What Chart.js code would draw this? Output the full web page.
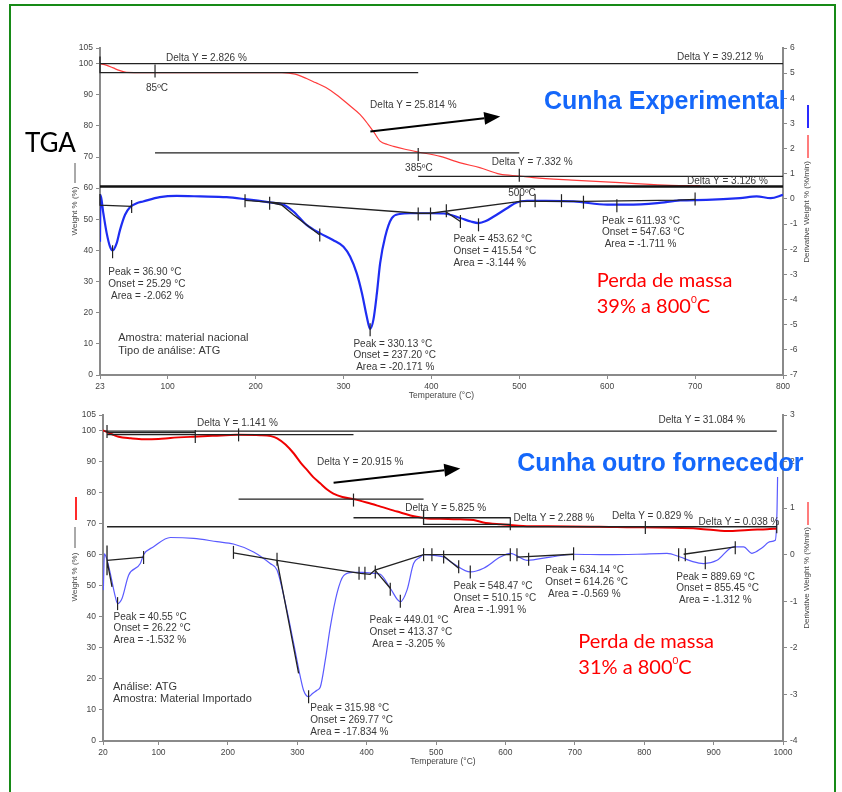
<!DOCTYPE html>
<html>
<head>
<meta charset="utf-8">
<script src="https://cdn.jsdelivr.net/npm/chart.js@4.4.0/dist/chart.umd.min.js"></script>
<style>
  html, body { margin: 0; padding: 0; background: #fff; }
  #page { position: relative; width: 842px; height: 792px; overflow: hidden; background: #fff; }
  #frame { position: absolute; left: 9px; top: 4px; width: 823px; height: 800px; border: 2px solid #178a17; }
  canvas { position: absolute; left: 0; }
  #topChart { top: 0; }
  #bottomChart { top: 400px; }
</style>
</head>
<body>
<div id="page">
  <div id="frame"></div>
  <canvas id="topChart" width="842" height="400"></canvas>
  <canvas id="bottomChart" width="842" height="392"></canvas>
</div>
<script>
const FONT = '"Liberation Sans", Arial, sans-serif';
Chart.defaults.font.family = FONT;

// ---------- top: material nacional (23 - 800 C) ----------
const topTempTicks = [23, 100, 200, 300, 400, 500, 600, 700, 800];
const topWeightTicks = [0, 10, 20, 30, 40, 50, 60, 70, 80, 90, 100, 105];

const topTgaTemp = [23, 30, 38, 45, 53, 100, 150, 200, 230, 245, 258, 268, 280, 292, 305, 319, 328, 334, 342, 350, 357, 370, 385, 410, 433, 455, 478, 500, 516, 560, 620, 672, 706];
const topTgaWeight = [100, 99.5, 98.6, 97.8, 97.2, 97.1, 97.1, 97.1, 97.1, 96.6, 95.2, 93.9, 92.3, 90, 87, 83.6, 80.5, 78.2, 75, 74, 73.4, 72.5, 71.6, 70.2, 68.1, 66.6, 64.5, 63.9, 63.4, 62.6, 61.7, 60.9, 60.8];

const topDtgTemp = [23, 23.6, 26.8, 30.6, 34.4, 37.3, 42, 45.8, 51.5, 57.1, 64.8, 72, 91, 110, 137, 167, 188, 216, 232, 243, 258, 273, 288, 300, 307.5, 315, 321, 326.5, 330.3, 334, 338, 341.7, 347.4, 355, 364, 376, 400, 414, 433, 445, 453.6, 462, 471, 486, 497, 509, 530, 562, 600, 622, 657, 683, 713, 751, 770, 786, 800];
const topDtgRate = [-1.7, 0.16, -0.57, -1.36, -1.9, -2.05, -1.76, -1.23, -0.63, -0.33, -0.17, -0.1, 0.07, 0.12, 0.1, 0.07, -0.01, -0.14, -0.23, -0.5, -1.03, -1.36, -1.63, -1.9, -2.29, -2.95, -3.75, -4.68, -5.17, -4.81, -3.75, -2.55, -1.5, -0.76, -0.6, -0.57, -0.57, -0.58, -0.76, -0.9, -0.96, -0.88, -0.7, -0.37, -0.14, -0.08, -0.08, -0.1, -0.23, -0.23, -0.17, -0.06, -0.04, 0.03, 0.1, 0.03, 0.16];

// construction lines [temp, weight %]
const topWeightGuides = [
  [[23, 100], [800, 100]],
  [[23, 102.3], [23, 97.1], [385, 97.1]],
  [[85.6, 71.3], [500, 71.3]],
  [[385, 63.8], [800, 63.8]]
];
const topWeightBold = [[[23, 60.55], [800, 60.55]]];
const topWeightMarks = [[85.6, 97.6], [385, 70.8], [500, 64.1]];

// construction lines [temp, derivative %/min]
const topRateGuides = [
  [[23, 0.2], [23, -0.25], [59, -0.3]],
  [[188, -0.06], [385, -0.57], [399, -0.57], [501, -0.1], [573, -0.1], [680, -0.05], [700, -0.02]],
  [[216, -0.14], [230, -0.25], [243, -0.63], [273, -1.43]],
  [[416, -0.5], [433, -0.9]]
];
const topRateMarks = [[37.3, -2.1], [59, -0.3], [188, -0.07], [216, -0.17], [273, -1.43], [330.3, -5.2], [385, -0.6], [399, -0.6], [417, -0.47], [433, -0.9], [453.6, -1.03], [501, -0.07], [518, -0.07], [548, -0.07], [573, -0.13], [611, -0.27], [700, 0]];

const topNotes = [
  { x: 98, y: 101.8, lines: ['Delta Y = 2.826 %'] },
  { x: 75.4, y: 92.2, lines: ['85ºC'] },
  { x: 330.3, y: 86.6, lines: ['Delta Y = 25.814 %'] },
  { x: 370.1, y: 66.4, lines: ['385ºC'] },
  { x: 468.8, y: 68.2, lines: ['Delta Y = 7.332 %'] },
  { x: 487.4, y: 58.5, lines: ['500ºC'] },
  { x: 679.4, y: 102, lines: ['Delta Y = 39.212 %'] },
  { x: 690.7, y: 62.1, lines: ['Delta Y = 3.126 %'] },
  { x: 32.4, y: 32.9, lines: ['Peak = 36.90 °C', 'Onset = 25.29 °C', ' Area = -2.062 %'] },
  { x: 311.3, y: 10.0, lines: ['Peak = 330.13 °C', 'Onset = 237.20 °C', ' Area = -20.171 %'] },
  { x: 425.1, y: 43.6, lines: ['Peak = 453.62 °C', 'Onset = 415.54 °C', 'Area = -3.144 %'] },
  { x: 594, y: 49.5, lines: ['Peak = 611.93 °C', 'Onset = 547.63 °C', ' Area = -1.711 %'] },
  { x: 43.8, y: 11.8, lines: ['Amostra: material nacional', 'Tipo de análise: ATG'], big: true }
];
const topArrows = [[330.6, 78.2, 478.3, 83.0]];

// ---------- bottom: material importado (20 - 1000 C) ----------
const botTempTicks = [20, 100, 200, 300, 400, 500, 600, 700, 800, 900, 1000];
const botWeightTicks = [0, 10, 20, 30, 40, 50, 60, 70, 80, 90, 100, 105];

const botTgaTemp = [20, 25, 33, 42.5, 60, 78.5, 100, 117, 150, 180, 213, 247, 262, 271, 283, 295, 305, 314, 323, 333, 343, 352, 365, 381, 400, 420, 444, 472, 487, 506, 535, 554, 568, 593, 631, 662, 760, 878, 920, 950, 977, 991];
const botTgaWeight = [100, 99.6, 98.8, 98, 97.5, 97.2, 97.3, 97.6, 98, 98.3, 98.6, 98.5, 98.2, 97.5, 95.5, 92.6, 89.6, 87.3, 85, 83, 81, 79.7, 78.6, 77.9, 76.8, 75.5, 73.9, 72.2, 71.7, 71.6, 71.4, 71.2, 70.4, 69.8, 69.2, 69.2, 68.9, 68.4, 67.6, 68.0, 68.2, 68.4];

const botDtgTemp = [20.5, 22, 26, 30.5, 37.7, 41, 47.4, 56.9, 73.8, 78.5, 92.9, 117, 150.6, 184.3, 208, 237, 261, 270.8, 285, 294.7, 304.3, 309, 316.3, 322, 328.4, 333.2, 340.4, 347.6, 357.2, 366.8, 380, 395, 410, 419.6, 434, 448.5, 458.1, 467.6, 477.3, 482, 500, 510.9, 525, 549.3, 568.5, 592.6, 607, 631, 664.6, 698.2, 746.3, 790, 832.8, 851.9, 870, 885.6, 904.9, 928.8, 943.2, 955.3, 970, 981.7, 988.9, 991.4, 992.2];
const botDtgRate = [-0.76, 0.02, -0.12, -0.4, -0.9, -1.05, -0.94, -0.44, -0.19, 0, 0.17, 0.37, 0.35, 0.28, 0.23, 0.06, -0.19, -0.33, -1.19, -1.9, -2.62, -2.91, -3.05, -2.98, -2.91, -2.84, -2.26, -1.55, -0.83, -0.45, -0.38, -0.38, -0.4, -0.42, -0.72, -1.01, -0.76, -0.19, -0.05, 0, -0.02, -0.05, -0.19, -0.37, -0.29, -0.05, 0.03, -0.12, -0.05, 0.01, 0, 0.01, 0.03, -0.05, -0.15, -0.19, -0.12, 0.17, 0.17, 0.03, 0.15, 0.28, 0.31, 0.96, 1.67];

const botWeightGuides = [
  [[22, 99.8], [991, 99.8]],
  [[25.8, 99.3], [153, 99.3]],
  [[25.8, 98.7], [381, 98.7]],
  [[215.4, 77.9], [482, 77.9]],
  [[381, 71.9], [607, 71.9]],
  [[482, 74.5], [482, 69.8], [607, 69.8]],
  [[25.8, 69.0], [991, 69.0]]
];
const botWeightMarks = [[25.8, 99.7], [153, 98.1], [215.4, 98.6], [381, 77.6], [607, 70], [801.6, 68.8], [991, 69]];

const botRateGuides = [
  [[25.8, 0.2], [25.8, -0.44]],
  [[25.8, -0.12], [78.5, -0.05]],
  [[25.8, -0.12], [33, -0.69]],
  [[208, 0.04], [270.8, -0.12], [390.8, -0.4], [405, -0.42], [412, -0.33], [482, 0], [607, 0]],
  [[270.8, -0.12], [301.9, -2.55]],
  [[412, -0.33], [434, -0.72]],
  [[510.9, -0.03], [532.6, -0.29]],
  [[616.6, -0.05], [698.2, 0.01]],
  [[856.8, 0.01], [931.2, 0.17]]
];
const botRateMarks = [[41, -1.05], [78.5, -0.06], [208, 0.05], [270.8, -0.1], [316.3, -3.05], [389, -0.4], [397.5, -0.4], [412.4, -0.37], [434, -0.74], [448.5, -1.0], [482, 0], [494, 0], [510.9, -0.05], [532.6, -0.26], [549.3, -0.37], [607, 0], [616.6, 0], [633.4, -0.1], [698.2, 0.02], [849.6, 0], [859.2, 0], [888, -0.17], [931.2, 0.15]];

const botNotes = [
  { x: 155.5, y: 102.3, lines: ['Delta Y = 1.141 %'] },
  { x: 328.4, y: 89.8, lines: ['Delta Y = 20.915 %'] },
  { x: 455.7, y: 74.9, lines: ['Delta Y = 5.825 %'] },
  { x: 611.7, y: 71.7, lines: ['Delta Y = 2.288 %'] },
  { x: 753.6, y: 72.5, lines: ['Delta Y = 0.829 %'] },
  { x: 878.4, y: 70.3, lines: ['Delta Y = 0.038 %'] },
  { x: 820.7, y: 103.2, lines: ['Delta Y = 31.084 %'] },
  { x: 35.3, y: 40.0, lines: ['Peak = 40.55 °C', 'Onset = 26.22 °C', 'Area = -1.532 %'] },
  { x: 34.4, y: 17.5, lines: ['Análise: ATG', 'Amostra: Material Importado'], big: true },
  { x: 318.8, y: 10.4, lines: ['Peak = 315.98 °C', 'Onset = 269.77 °C', 'Area = -17.834 %'] },
  { x: 404.2, y: 38.9, lines: ['Peak = 449.01 °C', 'Onset = 413.37 °C', ' Area = -3.205 %'] },
  { x: 525.3, y: 49.7, lines: ['Peak = 548.47 °C', 'Onset = 510.15 °C', 'Area = -1.991 %'] },
  { x: 657.4, y: 54.9, lines: ['Peak = 634.14 °C', 'Onset = 614.26 °C', ' Area = -0.569 %'] },
  { x: 846.2, y: 52.9, lines: ['Peak = 889.69 °C', 'Onset = 855.45 °C', ' Area = -1.312 %'] }
];
const botArrows = [[352.3, 83.2, 534.9, 87.8]];

// ---------- helpers ----------
const toPts = (xs, ys) => xs.map((x, i) => ({ x: x, y: ys[i] }));
const fromPairs = list => list.map(p => ({ x: p[0], y: p[1] }));
function toPaths(paths) {
  const out = [];
  paths.forEach(p => {
    p.forEach(q => out.push({ x: q[0], y: q[1] }));
    out.push({ x: p[p.length - 1][0], y: null });
  });
  return out;
}

function vText(ctx, text, cx, cy) {
  ctx.save();
  ctx.translate(cx, cy);
  ctx.rotate(-Math.PI / 2);
  ctx.textAlign = 'center';
  ctx.textBaseline = 'middle';
  ctx.fillText(text, 0, 0);
  ctx.restore();
}
function vMark(ctx, color, x, y1, y2, w) {
  ctx.strokeStyle = color;
  ctx.lineWidth = w;
  ctx.beginPath();
  ctx.moveTo(x, y1);
  ctx.lineTo(x, y2);
  ctx.stroke();
}

function overlay(spec) {
  return {
    id: 'overlay',
    afterDraw(chart) {
      const ctx = chart.ctx;
      const a = chart.chartArea;
      const xs = chart.scales.x, ys = chart.scales.y;
      ctx.save();

      // arrows
      ctx.strokeStyle = '#000';
      ctx.fillStyle = '#000';
      ctx.lineWidth = 2;
      spec.arrows.forEach(ar => {
        const x1 = xs.getPixelForValue(ar[0]), y1 = ys.getPixelForValue(ar[1]);
        const x2 = xs.getPixelForValue(ar[2]), y2 = ys.getPixelForValue(ar[3]);
        const ang = Math.atan2(y2 - y1, x2 - x1);
        const hl = 16, hw = 6.5;
        const bx = x2 - hl * Math.cos(ang), by = y2 - hl * Math.sin(ang);
        ctx.beginPath(); ctx.moveTo(x1, y1); ctx.lineTo(bx, by); ctx.stroke();
        ctx.beginPath();
        ctx.moveTo(x2, y2);
        ctx.lineTo(bx - hw * Math.sin(ang), by + hw * Math.cos(ang));
        ctx.lineTo(bx + hw * Math.sin(ang), by - hw * Math.cos(ang));
        ctx.closePath();
        ctx.fill();
      });

      // peak / delta notes
      ctx.fillStyle = '#383838';
      ctx.textBaseline = 'middle';
      ctx.textAlign = 'left';
      spec.notes.forEach(n => {
        ctx.font = (n.big ? 11 : 10) + 'px ' + FONT;
        const gap = n.big ? 12.5 : 11.8;
        n.lines.forEach((t, i) => {
          ctx.fillText(t, xs.getPixelForValue(n.x), ys.getPixelForValue(n.y) + i * gap);
        });
      });

      // axis titles
      ctx.fillStyle = '#444';
      ctx.font = '8.5px ' + FONT;
      ctx.textAlign = 'center';
      ctx.fillText('Temperature (°C)', (a.left + a.right) / 2, a.bottom + 21);
      ctx.font = '8px ' + FONT;
      vText(ctx, 'Weight % (%)', 75, spec.leftTitleY);
      vMark(ctx, '#555', 75, spec.leftLine[0], spec.leftLine[1], 1);
      if (spec.leftRed) vMark(ctx, '#ff2a2a', 76, spec.leftRed[0], spec.leftRed[1], 2);
      vText(ctx, 'Derivative Weight % (%/min)', 807, spec.rightTitleY);
      if (spec.rightBlue) vMark(ctx, '#2a2aff', 808, spec.rightBlue[0], spec.rightBlue[1], 2);
      if (spec.rightRed) vMark(ctx, '#ff5050', 808, spec.rightRed[0], spec.rightRed[1], 1.5);

      // slide captions
      ctx.textAlign = 'left';
      ctx.textBaseline = 'alphabetic';
      if (spec.tga) {
        ctx.fillStyle = '#000';
        ctx.font = '26px Lato';
        ctx.fillText('TGA', spec.tga[0], spec.tga[1]);
      }
      ctx.fillStyle = '#1467fa';
      ctx.font = 'bold 25px ' + FONT;
      ctx.fillText(spec.title[0], spec.title[1], spec.title[2]);

      ctx.fillStyle = '#ff0000';
      ctx.font = '20px Lato';
      const px = spec.loss[1], py = spec.loss[2];
      ctx.fillText('Perda de massa', px, py);
      const head = spec.loss[0] + ' a 800';
      ctx.fillText(head, px, py + 26);
      let w = ctx.measureText(head).width;
      ctx.font = '10px Lato';
      ctx.fillText('0', px + w, py + 26 - 10);
      w += ctx.measureText('0').width;
      ctx.font = '20px Lato';
      ctx.fillText('C', px + w, py + 26);

      ctx.restore();
    }
  };
}

function buildChart(canvasId, d) {
  const tickFont = { size: 8.5, family: FONT };
  const axisBase = {
    border: { display: true, color: '#8a8a8a', width: 2 },
    grid: { display: true, drawOnChartArea: false, drawTicks: true, tickLength: 4, color: '#8a8a8a' },
    ticks: { font: tickFont, color: '#444', padding: 3, autoSkip: false, maxRotation: 0, callback: v => String(v) }
  };
  const guideStyle = { borderColor: '#222', borderWidth: 1.3, pointRadius: 0, tension: 0, spanGaps: false, clip: false, order: 0 };
  const markStyle = { showLine: false, pointStyle: 'line', pointRotation: 90, pointRadius: 6.5, pointBorderColor: '#222', pointBorderWidth: 1.2, clip: false, order: 0 };

  return new Chart(document.getElementById(canvasId), {
    type: 'line',
    data: {
      datasets: [
        Object.assign({ label: 'guides', data: toPaths(d.weightGuides), yAxisID: 'y' }, guideStyle),
        Object.assign({ label: 'bold guides', data: toPaths(d.weightBold), yAxisID: 'y' }, guideStyle, { borderWidth: 2.6, borderColor: '#111' }),
        Object.assign({ label: 'weight marks', data: fromPairs(d.weightMarks), yAxisID: 'y' }, markStyle),
        Object.assign({ label: 'rate guides', data: toPaths(d.rateGuides), yAxisID: 'y1' }, guideStyle),
        Object.assign({ label: 'rate marks', data: fromPairs(d.rateMarks), yAxisID: 'y1' }, markStyle),
        {
          label: 'Weight', data: toPts(d.tgaTemp, d.tgaWeight), yAxisID: 'y',
          borderColor: d.redColor, borderWidth: d.redWidth, pointRadius: 0,
          cubicInterpolationMode: 'monotone', order: 2
        },
        {
          label: 'Derivative Weight', data: toPts(d.dtgTemp, d.dtgRate), yAxisID: 'y1',
          borderColor: d.blueColor, borderWidth: d.blueWidth, pointRadius: 0,
          cubicInterpolationMode: 'monotone', order: 2
        }
      ]
    },
    options: {
      responsive: false,
      devicePixelRatio: 1,
      animation: false,
      events: [],
      layout: { padding: { top: d.padTop, left: 0, right: 0, bottom: 0 } },
      plugins: { legend: { display: false }, tooltip: { enabled: false } },
      scales: {
        x: Object.assign({}, axisBase, {
          type: 'linear', min: d.tempTicks[0], max: d.tempTicks[d.tempTicks.length - 1],
          afterBuildTicks: s => { s.ticks = d.tempTicks.map(v => ({ value: v })); },
          afterFit: s => { s.height = d.xHeight; }
        }),
        y: Object.assign({}, axisBase, {
          position: 'left', min: 0, max: 105,
          afterBuildTicks: s => { s.ticks = d.weightTicks.map(v => ({ value: v })); },
          afterFit: s => { s.width = d.leftWidth; }
        }),
        y1: Object.assign({}, axisBase, {
          position: 'right', min: d.rateMin, max: d.rateMax,
          ticks: Object.assign({}, axisBase.ticks, { stepSize: 1 }),
          afterFit: s => { s.width = d.rightWidth; }
        })
      }
    },
    plugins: [overlay(d.overlay)]
  });
}

buildChart('topChart', {
  tempTicks: topTempTicks, weightTicks: topWeightTicks,
  tgaTemp: topTgaTemp, tgaWeight: topTgaWeight, dtgTemp: topDtgTemp, dtgRate: topDtgRate,
  weightGuides: topWeightGuides, weightBold: topWeightBold, weightMarks: topWeightMarks,
  rateGuides: topRateGuides, rateMarks: topRateMarks,
  rateMin: -7, rateMax: 6,
  redColor: '#ff3b3b', redWidth: 1.2, blueColor: '#1e2df2', blueWidth: 2.2,
  padTop: 48, xHeight: 25, leftWidth: 100, rightWidth: 59,
  overlay: {
    notes: topNotes, arrows: topArrows,
    leftTitleY: 211, leftLine: [163, 183],
    rightTitleY: 212, rightBlue: [105, 128], rightRed: [135, 158],
    tga: [25, 151.7],
    title: ['Cunha Experimental', 544, 109],
    loss: ['39%', 596.7, 286.7]
  }
});

buildChart('bottomChart', {
  tempTicks: botTempTicks, weightTicks: botWeightTicks,
  tgaTemp: botTgaTemp, tgaWeight: botTgaWeight, dtgTemp: botDtgTemp, dtgRate: botDtgRate,
  weightGuides: botWeightGuides, weightBold: [], weightMarks: botWeightMarks,
  rateGuides: botRateGuides, rateMarks: botRateMarks,
  rateMin: -4, rateMax: 3,
  redColor: '#f00000', redWidth: 2, blueColor: '#5a5aff', blueWidth: 1.2,
  padTop: 15, xHeight: 51, leftWidth: 103, rightWidth: 59,
  overlay: {
    notes: botNotes, arrows: botArrows,
    leftTitleY: 177, leftLine: [127, 148], leftRed: [97, 120],
    rightTitleY: 178, rightRed: [102, 125],
    title: ['Cunha outro fornecedor', 517.3, 70.7],
    loss: ['31%', 578.3, 248.3]
  }
});
</script>
</body>
</html>
